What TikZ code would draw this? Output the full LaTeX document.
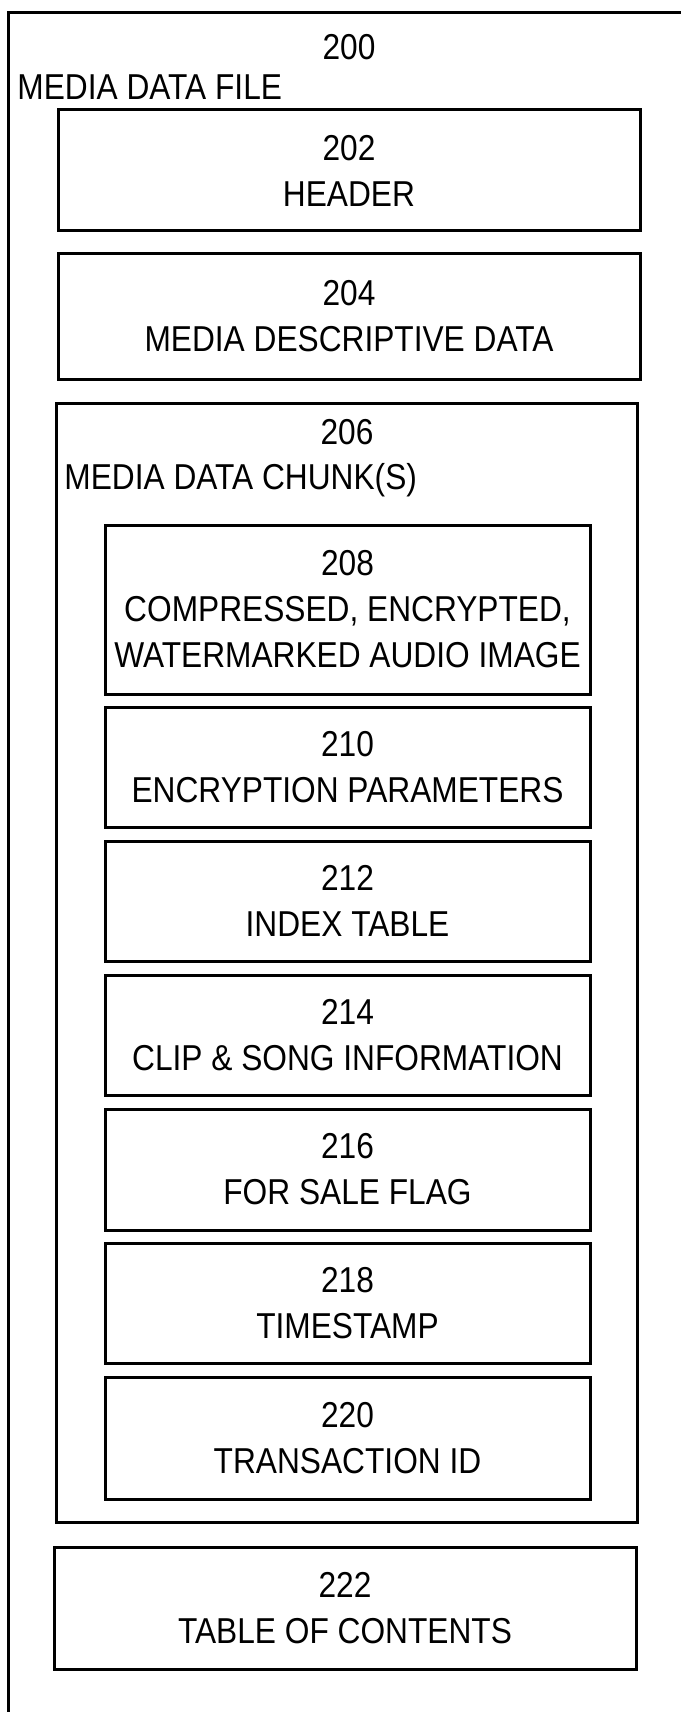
\documentclass[tikz,border=0pt]{standalone}
\usepackage{fontspec}
\setmainfont[FakeStretch=0.88]{Liberation Sans}
\tikzset{
    part/.style={draw, line width=1.5pt, inner sep=0pt, outer sep=0pt, align=center,
        font=\fontsize{18}{23}\selectfont},
    lbl/.style={inner sep=0pt, font=\fontsize{18}{23}\selectfont},
}
\begin{document}
\begin{tikzpicture}[x=0.5pt, y=-0.5pt]
        \useasboundingbox (0,0) rectangle (681,1712);
        % outer file box (cut at right and bottom)
        \draw[line width=1.5pt] (8,1712) -- (8,13) -- (681,13);
        \node[lbl] (n200) at (349,47) {200};
        \node[lbl, anchor=base west] (file) at (17,100) {MEDIA DATA FILE};
        \node[part, minimum width=582*0.5pt, minimum height=121*0.5pt] (hdr) at (349,170.5) {202\\HEADER};
        \node[part, minimum width=582*0.5pt, minimum height=125*0.5pt] (desc) at (349,316.5) {204\\MEDIA DESCRIPTIVE DATA};
        % chunk box
        \node[part, minimum width=581*0.5pt, minimum height=1119*0.5pt] (chunk) at (346.5,962.5) {};
        \node[lbl] (n206) at (347,432) {206};
        \node[lbl, anchor=base west] (chunklbl) at (64,489) {MEDIA DATA CHUNK(S)};
        \foreach \n/\yt/\yb/\txt in {
        208/525/694/{208\\COMPRESSED, ENCRYPTED,\\WATERMARKED AUDIO IMAGE},
        210/707/827/{210\\ENCRYPTION PARAMETERS},
        212/841/961/{212\\INDEX TABLE},
        214/975/1095/{214\\CLIP \& SONG INFORMATION},
        216/1109/1230/{216\\FOR SALE FLAG},
        218/1243/1363/{218\\TIMESTAMP},
        220/1377/1499/{220\\TRANSACTION ID}}{
            \node[part, minimum width=485*0.5pt, minimum height=(\yb-\yt)*0.5pt] (b\n) at (347.5,{(\yt+\yb)/2}) {\txt};
        }
        \node[part, minimum width=582*0.5pt, minimum height=122*0.5pt] (toc) at (345,1608) {222\\TABLE OF CONTENTS};
    \end{tikzpicture}
\end{document}
